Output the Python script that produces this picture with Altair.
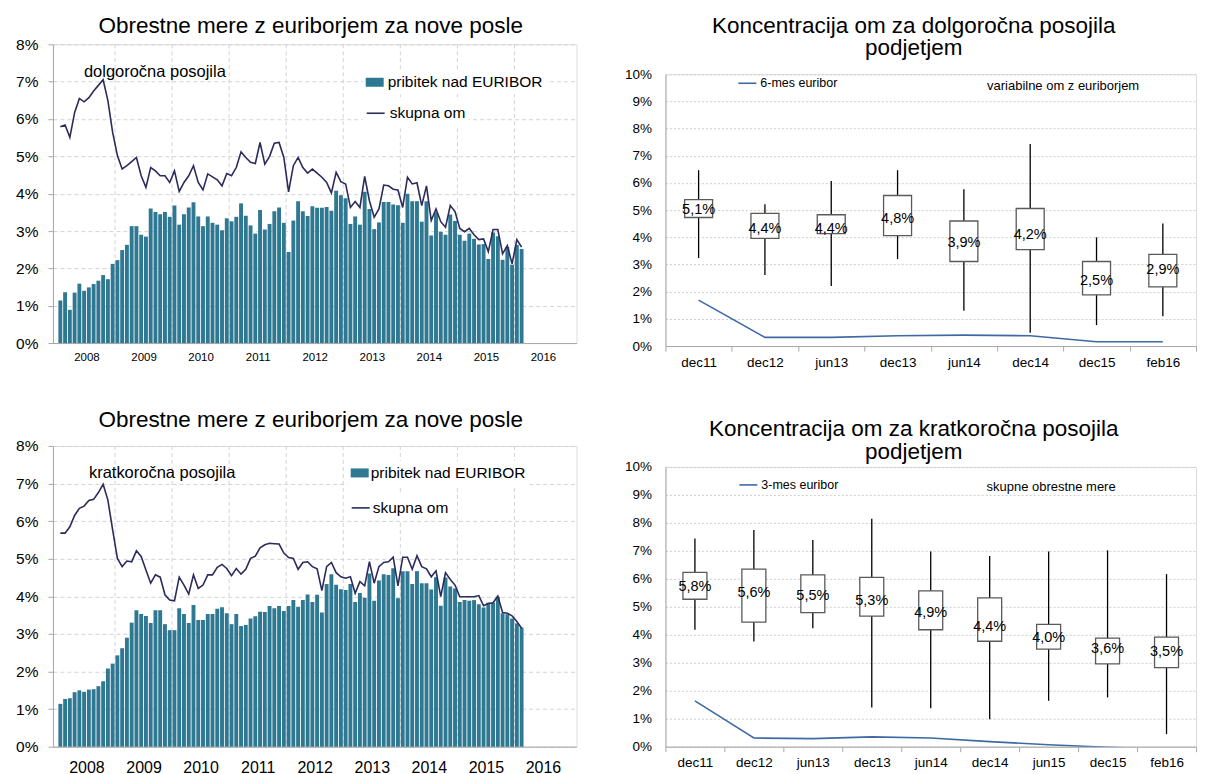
import altair as alt
import pandas as pd

FONT = "Liberation Sans"
TEAL = "#2f7892"
NAVY = "#2b2b5c"
EURBLUE = "#3d6aa5"
GRID = "#d3d3d3"
AXC = "#a8a8a8"

# ---------------- data: monthly Jan 2008 - Feb 2016 ----------------
year_labels = [2008, 2009, 2010, 2011, 2012, 2013, 2014, 2015, 2016]
year_bounds = [2009, 2010, 2011, 2012, 2013, 2014, 2015, 2016]

lt_spread = [
    1.14, 1.36, 0.89, 1.35, 1.59, 1.40, 1.49, 1.58, 1.67, 1.82, 1.71, 2.12,
    2.22, 2.49, 2.63, 3.13, 3.13, 2.90, 2.85, 3.60, 3.51, 3.45, 3.51, 3.38,
    3.68, 3.17, 3.45, 3.63, 3.77, 3.39, 3.13, 3.39, 3.22, 3.17, 3.02, 3.34,
    3.26, 3.38, 3.74, 3.41, 3.15, 2.93, 3.56, 3.04, 3.19, 3.53, 3.63, 3.22,
    2.44, 3.28, 3.80, 3.53, 3.40, 3.66, 3.62, 3.62, 3.64, 3.54, 4.08, 3.96,
    3.88, 3.19, 3.39, 3.17, 4.05, 3.59, 3.05, 3.23, 3.78, 3.78, 3.71, 3.69,
    3.22, 4.00, 3.80, 3.80, 3.25, 3.80, 2.88, 3.50, 2.98, 2.90, 3.44, 3.27,
    2.90, 2.74, 2.93, 2.79, 2.64, 2.65, 2.25, 2.96, 2.86, 2.23, 2.57, 2.10,
    2.63, 2.52,
]
lt_total = [
    5.79, 5.84, 5.51, 6.17, 6.55, 6.46, 6.57, 6.75, 6.90, 7.05, 6.49, 5.64,
    5.02, 4.66, 4.75, 4.86, 4.97, 4.48, 4.17, 4.70, 4.61, 4.48, 4.48, 4.30,
    4.61, 4.06, 4.30, 4.48, 4.75, 4.30, 4.10, 4.53, 4.45, 4.37, 4.21, 4.54,
    4.48, 4.70, 5.12, 4.97, 4.84, 4.81, 5.37, 4.79, 5.00, 5.35, 5.37, 4.97,
    4.05, 4.75, 4.97, 4.70, 4.55, 4.66, 4.55, 4.44, 4.30, 4.02, 4.57, 4.32,
    4.26, 3.63, 3.79, 3.63, 4.46, 3.81, 3.37, 3.59, 4.23, 4.21, 4.12, 4.10,
    3.63, 4.44, 4.26, 4.29, 3.68, 4.21, 3.28, 3.59, 3.25, 3.10, 3.68, 3.52,
    3.07, 2.98, 3.07, 2.90, 2.77, 2.79, 2.45, 3.04, 3.04, 2.39, 2.61, 2.12,
    2.77, 2.57,
]
st_spread = [
    1.14, 1.27, 1.29, 1.45, 1.50, 1.46, 1.52, 1.53, 1.61, 1.74, 2.08, 2.21,
    2.43, 2.62, 2.90, 3.30, 3.63, 3.53, 3.48, 3.29, 3.63, 3.63, 3.26, 3.10,
    3.10, 3.68, 3.53, 3.29, 3.77, 3.37, 3.37, 3.53, 3.53, 3.67, 3.71, 3.55,
    3.26, 3.53, 3.21, 3.24, 3.41, 3.47, 3.59, 3.58, 3.74, 3.68, 3.74, 3.61,
    3.74, 3.90, 3.72, 3.90, 4.05, 3.85, 4.04, 3.57, 4.33, 4.59, 4.31, 4.19,
    4.17, 4.33, 3.85, 4.09, 3.96, 4.61, 3.88, 4.42, 4.59, 4.57, 4.75, 3.95,
    4.67, 4.67, 4.33, 4.67, 4.35, 4.35, 4.18, 4.51, 3.75, 4.50, 4.26, 4.21,
    3.85, 3.90, 3.88, 3.90, 3.79, 3.70, 3.83, 3.83, 3.99, 3.55, 3.52, 3.41,
    3.28, 3.17,
]
st_total = [
    5.68, 5.68, 5.85, 6.15, 6.34, 6.40, 6.55, 6.58, 6.76, 6.98, 6.56, 5.77,
    5.01, 4.79, 4.94, 4.92, 5.21, 5.06, 4.70, 4.35, 4.57, 4.51, 4.04, 3.90,
    3.88, 4.51, 4.30, 4.06, 4.57, 4.21, 4.30, 4.57, 4.57, 4.77, 4.85, 4.74,
    4.55, 4.74, 4.59, 4.72, 5.01, 5.07, 5.29, 5.37, 5.41, 5.40, 5.39, 5.15,
    5.03, 5.01, 4.72, 4.90, 4.92, 4.79, 4.73, 4.15, 4.79, 4.90, 4.63, 4.52,
    4.48, 4.52, 4.08, 4.39, 4.28, 4.92, 4.35, 4.79, 4.90, 4.92, 5.04, 4.28,
    5.04, 5.04, 4.72, 5.08, 4.79, 4.73, 4.52, 4.68, 3.99, 4.63, 4.45, 4.30,
    3.99, 3.99, 3.99, 3.99, 4.02, 3.75, 3.81, 3.83, 4.01, 3.57, 3.55, 3.48,
    3.33, 3.15,
]

# ---------------- data: box charts ----------------
lt_cats = ["dec11", "dec12", "jun13", "dec13", "jun14", "dec14", "dec15", "feb16"]
lt_hi = [6.47, 5.22, 6.07, 6.47, 5.77, 7.43, 4.00, 4.51]
lt_q3 = [5.39, 4.88, 4.83, 5.54, 4.60, 5.06, 3.11, 3.37]
lt_q1 = [4.73, 3.96, 4.14, 4.06, 3.11, 3.55, 1.88, 2.18]
lt_lo = [3.24, 2.61, 2.21, 3.20, 1.30, 0.49, 0.77, 1.10]
lt_med = [5.1, 4.4, 4.4, 4.8, 3.9, 4.2, 2.5, 2.9]
eur6 = [1.69, 0.32, 0.32, 0.38, 0.40, 0.38, 0.16, 0.16]

st_cats = ["dec11", "dec12", "jun13", "dec13", "jun14", "dec14", "jun15", "dec15", "feb16"]
st_hi = [7.44, 7.75, 7.39, 8.15, 6.98, 6.82, 6.98, 7.02, 6.17]
st_q3 = [6.23, 6.35, 6.14, 6.05, 5.57, 5.32, 4.37, 3.88, 3.92]
st_q1 = [5.27, 4.45, 4.79, 4.67, 4.18, 3.77, 3.49, 2.96, 2.83]
st_lo = [4.18, 3.76, 4.23, 1.40, 1.37, 0.98, 1.64, 1.76, 0.45]
st_med = [5.8, 5.6, 5.5, 5.3, 4.9, 4.4, 4.0, 3.6, 3.5]
eur3 = [1.64, 0.31, 0.29, 0.35, 0.31, 0.18, 0.07, -0.02, -0.08]

n_months = len(lt_spread)
t_mid = [2008 + (i + 0.5) / 12 for i in range(n_months)]


def left_panel(spread, total, title, note, w, h, xfont, xpad, toff, note_x, note_y,
               leg_x, leg_y1, leg_y2, lab_off):
    df = pd.DataFrame({"t": t_mid, "spread": spread, "total": total})
    df["s1"] = "pribitek nad EURIBOR"
    df["s2"] = "skupna om"
    xs = alt.Scale(domain=[2008, 2017], nice=False, zero=False)
    ys = alt.Scale(domain=[0, 8], nice=False)
    xaxis = alt.Axis(values=[y + 0.5 for y in year_labels], labelExpr="'' + floor(datum.value)",
                     ticks=False, grid=False, title=None, labelFontSize=xfont, labelPadding=xpad,
                     domainColor=AXC, labelColor="black", labelFont=FONT)
    yaxis = alt.Axis(values=list(range(9)), labelExpr="datum.value + '%'", title=None,
                     gridDash=[4, 3], gridColor=GRID, tickSize=5, tickColor=AXC,
                     domainColor=AXC, labelPadding=10, labelFontSize=15.5,
                     labelColor="black", labelFont=FONT)
    rules = alt.Chart(pd.DataFrame({"yb": year_bounds})).mark_rule(
        color=GRID, strokeDash=[4, 3], strokeWidth=1).encode(
        x=alt.X("yb:Q", scale=xs, axis=xaxis))
    bars = alt.Chart(df).mark_bar(size=3.9).encode(
        x=alt.X("t:Q", scale=xs, axis=xaxis),
        y=alt.Y("spread:Q", scale=ys, axis=yaxis),
        fill=alt.Fill("s1:N", scale=alt.Scale(range=[TEAL]),
                      legend=alt.Legend(orient="none", legendX=leg_x, legendY=leg_y1, title=None,
                                        symbolType="M-1,-0.5L1,-0.5L1,0.5L-1,0.5Z",
                                        symbolSize=324, symbolStrokeWidth=0,
                                        labelFontSize=15.5, labelFont=FONT, labelColor="black",
                                        labelLimit=400, fillColor="white", padding=3,
                                        labelOffset=lab_off)))
    line = alt.Chart(df).mark_line(strokeWidth=1.6).encode(
        x=alt.X("t:Q", scale=xs, axis=xaxis),
        y=alt.Y("total:Q", scale=ys, axis=yaxis),
        stroke=alt.Stroke("s2:N", scale=alt.Scale(range=[NAVY]),
                          legend=alt.Legend(orient="none", legendX=leg_x, legendY=leg_y2, title=None,
                                            symbolType="stroke", symbolSize=324,
                                            symbolStrokeWidth=1.6,
                                            labelFontSize=15.5, labelFont=FONT, labelColor="black",
                                            labelLimit=400, fillColor="white", padding=3,
                                            labelOffset=lab_off)))
    txt = alt.Chart(pd.DataFrame({"note": [note]})).mark_text(
        align="left", baseline="middle", fontSize=16.5, font=FONT, color="black").encode(
        x=alt.value(note_x), y=alt.value(note_y), text="note:N")
    return alt.layer(rules, bars, line, txt).properties(
        width=w, height=h,
        title=alt.TitleParams(title, fontSize=22.5, font=FONT, fontWeight="normal", color="black",
                              anchor="middle", frame="group", offset=toff, dx=-4))


def box_panel(cats, hi, q3, q1, lo, med, eur, eur_name, title, note, w, h, box_w, toff,
              leg_x, leg_y, note_x, note_y, lh):
    df = pd.DataFrame({"cat": cats, "hi": hi, "q3": q3, "q1": q1, "lo": lo, "med": med, "eur": eur})
    df["ser"] = eur_name
    xs = alt.Scale(domain=cats, paddingInner=0, paddingOuter=0)
    ys = alt.Scale(domain=[0, 10], nice=False)
    xaxis = alt.Axis(title=None, labelAngle=0, tickBand="extent", tickSize=5, tickColor=AXC,
                     domainColor=AXC, labelFontSize=13.5, labelPadding=4, labelColor="black",
                     grid=False, labelFont=FONT)
    yaxis = alt.Axis(values=list(range(11)), labelExpr="datum.value + '%'", title=None,
                     gridDash=[2, 2], gridColor="#cdcdcd", ticks=False, domainColor=AXC,
                     labelPadding=14, labelFontSize=13.5, labelColor="black", labelFont=FONT)
    X = alt.X("cat:N", sort=cats, scale=xs, axis=xaxis)
    base = alt.Chart(df)
    whisk = base.mark_rule(color="black", strokeWidth=1.3).encode(
        x=X, y=alt.Y("lo:Q", scale=ys, axis=yaxis), y2="hi:Q")
    box = base.mark_bar(size=box_w, fill="white", stroke="#5a5a5a", strokeWidth=1.3).encode(
        x=X, y=alt.Y("q1:Q", scale=ys, axis=yaxis), y2="q3:Q")
    lab = base.transform_calculate(
        lab="replace(format(datum.med, '.1f'), '.', ',') + '%'").mark_text(
        fontSize=14.5, font=FONT, color="black", baseline="middle", dy=3).encode(
        x=X, y=alt.Y("med:Q", scale=ys, axis=yaxis), text="lab:N")
    line = base.mark_line(strokeWidth=1.6, clip=True).encode(
        x=X, y=alt.Y("eur:Q", scale=ys, axis=yaxis),
        stroke=alt.Stroke("ser:N", scale=alt.Scale(range=[EURBLUE]),
                          legend=alt.Legend(orient="none", legendX=leg_x, legendY=leg_y, title=None,
                                            symbolType="stroke", symbolSize=324,
                                            symbolStrokeWidth=1.6, labelFontSize=12.5,
                                            labelFont=FONT, labelColor="black", padding=0,
                                            labelOffset=3)))
    txt = alt.Chart(pd.DataFrame({"note": [note]})).mark_text(
        align="center", baseline="middle", fontSize=13, font=FONT, color="black").encode(
        x=alt.value(note_x), y=alt.value(note_y), text="note:N")
    return alt.layer(whisk, box, lab, line, txt).properties(
        width=w, height=h,
        title=alt.TitleParams(title, fontSize=22.5, font=FONT, fontWeight="normal", color="black",
                              anchor="middle", frame="group", offset=toff, dx=-17, lineHeight=lh))


def spacer():
    return alt.Chart(pd.DataFrame({"v": [0]})).mark_point(opacity=0, size=1).encode(
        x=alt.X("v:Q", axis=None), y=alt.Y("v:Q", axis=None)).properties(
        width=1, height=1, view=alt.ViewBackground(strokeOpacity=0))


def indep(c):
    return c.resolve_scale(fill="independent", stroke="independent").resolve_legend(
        fill="independent", stroke="independent")


tl = left_panel(lt_spread, lt_total, "Obrestne mere z euriborjem za nove posle",
                "dolgoročna posojila", 524, 299, 11.5, 8, 0, 31, 28, 310, 26, 56, 4)
bl = left_panel(st_spread, st_total, "Obrestne mere z euriborjem za nove posle",
                "kratkoročna posojila", 524, 301, 16, 13, 7, 36, 27, 295, 15, 49, 2)
tr = box_panel(lt_cats, lt_hi, lt_q3, lt_q1, lt_lo, lt_med, eur6, "6-mes euribor",
               ["Koncentracija om za dolgoročna posojila", "podjetjem"],
               "variabilne om z euriborjem", 531, 272, 28, 8, 72, -1, 398, 12, 22)
br = box_panel(st_cats, st_hi, st_q3, st_q1, st_lo, st_med, eur3, "3-mes euribor",
               ["Koncentracija om za kratkoročna posojila", "podjetjem"],
               "skupne obrestne mere", 531, 280, 24, -4, 73, 8, 386, 20, 23)

left = indep(alt.vconcat(spacer(), indep(alt.vconcat(tl, bl, spacing=46)), spacing=0))
right = indep(alt.vconcat(spacer(), indep(alt.vconcat(tr, br, spacing=49)), spacing=0))

chart = indep(alt.hconcat(left, right, spacing=46)).properties(
    padding={"left": 7, "top": 5, "right": 1, "bottom": 0}
).configure_view(stroke="#c4c4c4", strokeWidth=1.5).configure(
    font=FONT, background="white")

chart.save("out.html", embed_options={"renderer": "svg", "actions": False})
